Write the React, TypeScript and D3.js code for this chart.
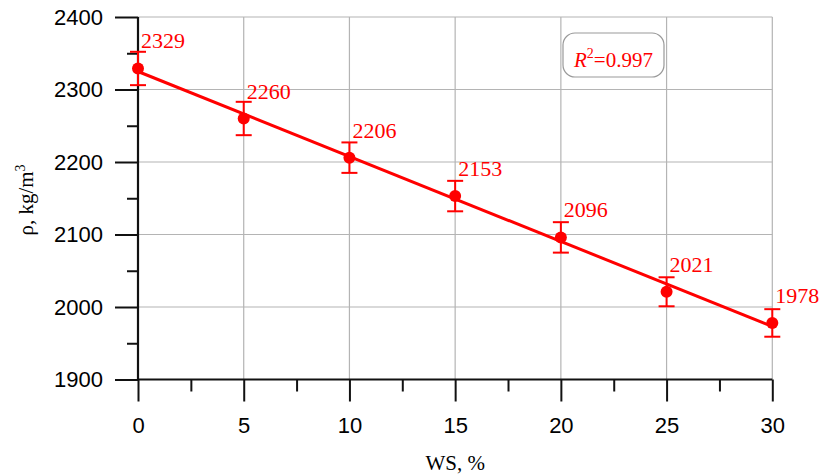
import React, {useEffect, useRef} from 'react';
import * as d3 from 'd3';

// density vs waste share, with fitted line
const ws = [0, 5, 10, 15, 20, 25, 30];
const density = [2329, 2260, 2206, 2153, 2096, 2021, 1978];
const errors = [23, 23, 21, 21, 21, 20, 19];
const xTicks = [0, 5, 10, 15, 20, 25, 30];
const yTicks = [1900, 2000, 2100, 2200, 2300, 2400];
const r2Label = '0.997';

function App() {
    const ref = useRef<SVGSVGElement>(null);

    const width = 822;
    const height = 476;
    const margin = {top: 17, right: 50, bottom: 96, left: 138};

    useEffect(() => {
        const svg = d3.select(ref.current);
        svg.selectAll('*').remove();

        const x = d3.scaleLinear().domain([0, 30]).range([margin.left, 772.3]);
        const y = d3.scaleLinear().domain([1900, 2400]).range([379.5, margin.top]);

        const sans = 'Liberation Sans, Arial, sans-serif';
        const serif = 'Liberation Serif, Times New Roman, serif';
        const red = '#ff0000';

        // grid
        const grid = svg.append('g');
        grid.selectAll('line.v')
            .data(xTicks.filter(d => d > 0))
            .enter()
            .append('line')
            .attr('x1', d => x(d)).attr('x2', d => x(d))
            .attr('y1', y(2400)).attr('y2', y(1900))
            .attr('stroke', '#b4b4b4').attr('stroke-width', 1.2);
        grid.selectAll('line.h')
            .data(yTicks.filter(d => d > 1900))
            .enter()
            .append('line')
            .attr('x1', x(0)).attr('x2', x(30))
            .attr('y1', d => y(d)).attr('y2', d => y(d))
            .attr('stroke', '#b4b4b4').attr('stroke-width', 1.2);

        // y axis
        const yAxis = d3.axisLeft(y).tickValues(yTicks).tickSize(23).tickPadding(12).tickFormat(d3.format('d'));
        const gy = svg.append('g').attr('transform', `translate(${x(0)},0)`).call(yAxis);
        const yMinor = d3.axisLeft(y).tickValues(d3.range(1950, 2400, 100)).tickSize(11).tickFormat(() => '');
        svg.append('g').attr('transform', `translate(${x(0)},0)`).call(yMinor)
            .call(g => g.select('.domain').remove());

        // x axis
        const xAxis = d3.axisBottom(x).tickValues(xTicks).tickSize(22).tickPadding(16).tickFormat(d3.format('d'));
        const gx = svg.append('g').attr('transform', `translate(0,${y(1900)})`).call(xAxis);
        const xMinor = d3.axisBottom(x).tickValues(d3.range(2.5, 30, 5)).tickSize(12).tickFormat(() => '');
        svg.append('g').attr('transform', `translate(0,${y(1900)})`).call(xMinor)
            .call(g => g.select('.domain').remove());

        [gx, gy].forEach(g => {
            g.select('.domain').attr('stroke', '#111').attr('stroke-width', 2.2)
                .attr('d', g === gx ? `M${x(0)},0H${x(30)}` : `M0,${y(1900)}V${y(2400)}`);
            g.selectAll('.tick line').attr('stroke', '#111').attr('stroke-width', 2);
            g.selectAll('.tick text').attr('font-family', sans).attr('font-size', 22).attr('fill', '#000');
        });
        svg.selectAll('.tick line').attr('stroke', '#111').attr('stroke-width', 2);

        // axis titles
        svg.append('text')
            .attr('x', x(15)).attr('y', 470)
            .attr('text-anchor', 'middle')
            .attr('font-family', serif).attr('font-size', 21)
            .text('WS, %');

        const yt = svg.append('text')
            .attr('transform', `translate(33,200) rotate(-90)`)
            .attr('text-anchor', 'middle')
            .attr('font-family', serif).attr('font-size', 21);
        yt.append('tspan').text('ρ, kg/m');
        yt.append('tspan').attr('font-size', 14).attr('dy', -8).text('3');

        // regression
        const mx = d3.mean(ws) as number;
        const my = d3.mean(density) as number;
        const sxy = d3.sum(ws.map((v, i) => (v - mx) * (density[i] - my)));
        const sxx = d3.sum(ws.map(v => (v - mx) ** 2));
        const slope = sxy / sxx;
        const icpt = my - slope * mx;
        svg.append('line')
            .attr('x1', x(0)).attr('y1', y(icpt))
            .attr('x2', x(30)).attr('y2', y(icpt + slope * 30))
            .attr('stroke', red).attr('stroke-width', 3);

        // error bars + points
        const pts = svg.append('g').selectAll('g').data(ws).enter().append('g');
        pts.append('line')
            .attr('x1', d => x(d)).attr('x2', d => x(d))
            .attr('y1', (d, i) => y(density[i] + errors[i]))
            .attr('y2', (d, i) => y(density[i] - errors[i]))
            .attr('stroke', red).attr('stroke-width', 2);
        [1, -1].forEach(s => {
            pts.append('line')
                .attr('x1', d => x(d) - 8).attr('x2', d => x(d) + 8)
                .attr('y1', (d, i) => y(density[i] + s * errors[i]))
                .attr('y2', (d, i) => y(density[i] + s * errors[i]))
                .attr('stroke', red).attr('stroke-width', 2);
        });
        pts.append('circle')
            .attr('cx', d => x(d)).attr('cy', (d, i) => y(density[i]))
            .attr('r', 6).attr('fill', red);
        pts.append('text')
            .attr('x', d => x(d) + 3).attr('y', (d, i) => y(density[i]) - 20)
            .attr('font-family', serif).attr('font-size', 22).attr('fill', red)
            .text((d, i) => density[i]);

        // R2 box
        svg.append('rect')
            .attr('x', 563).attr('y', 33).attr('width', 101).attr('height', 44)
            .attr('rx', 12).attr('fill', '#fff').attr('stroke', '#999').attr('stroke-width', 1.2);
        const rt = svg.append('text')
            .attr('x', 613.5).attr('y', 67)
            .attr('text-anchor', 'middle')
            .attr('font-family', serif).attr('font-size', 21).attr('fill', red);
        rt.append('tspan').attr('font-style', 'italic').text('R');
        rt.append('tspan').attr('font-size', 14).attr('dy', -9).text('2');
        rt.append('tspan').attr('dy', 9).text('=' + r2Label);
    }, []);

    return (
        <svg ref={ref} width={width} height={height}
             style={{position: 'absolute', left: 0, top: 0, background: '#fff'}}/>
    );
}

export default App;
